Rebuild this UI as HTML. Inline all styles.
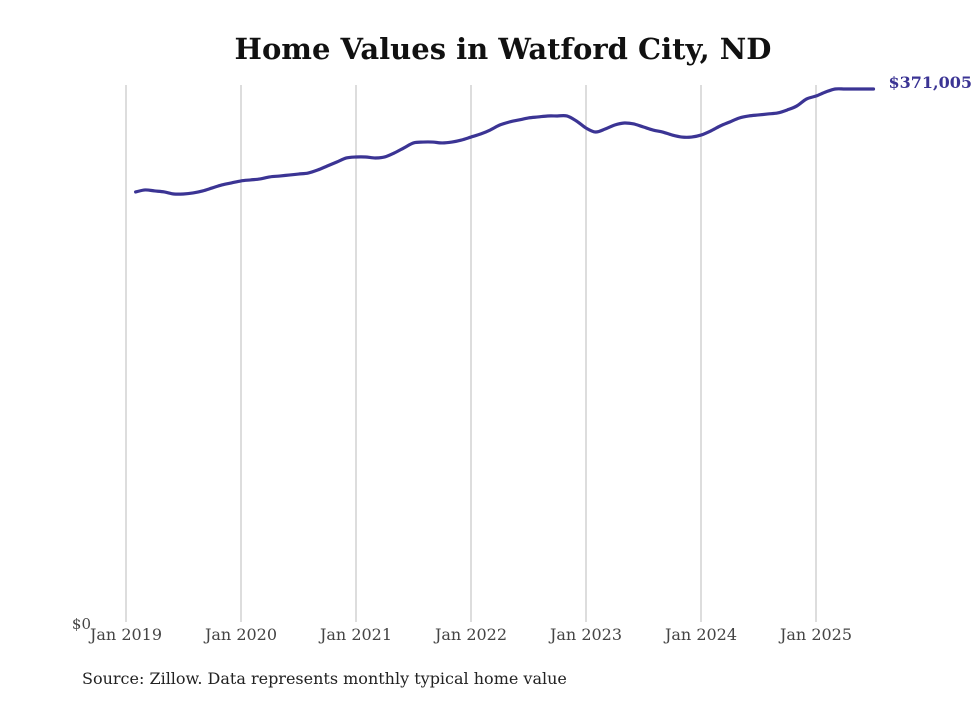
<!DOCTYPE html>
<html><head><meta charset="utf-8"><style>
body{margin:0;background:#fff;}
svg text{font-family:"DejaVu Serif","Liberation Serif",serif;}
</style></head><body>
<svg id="chart" width="980" height="699" viewBox="0 0 980 699">
<text x="503" y="59" text-anchor="middle" font-size="29" font-weight="bold" fill="#111">Home Values in Watford City, ND</text>
<g id="grid"></g><g id="xlabels"></g>
<text x="91" y="629" text-anchor="end" font-size="15" fill="#444">$0</text>
<path id="line" fill="none" stroke="#3b3494" stroke-width="3.2" stroke-linejoin="round" stroke-linecap="round"/>
<text id="endlabel" font-size="16" font-weight="bold" fill="#3b3494"></text>
<text x="82" y="684" font-size="16" fill="#222">Source: Zillow. Data represents monthly typical home value</text>
</svg>
<script>
const tickLabels=["Jan 2019","Jan 2020","Jan 2021","Jan 2022","Jan 2023","Jan 2024","Jan 2025"];
const startMonth=1; // Feb 2019 (months since Jan 2019)
const values=[299200,300600,299900,299200,297800,297800,298500,299900,302000,304100,305500,306900,
307600,308300,309700,310300,311000,311700,312400,314500,317300,320100,322900,323600,
323600,322900,323600,326400,329900,333400,334000,334000,333400,334000,335400,337500,
339600,342400,345900,348000,349400,350800,351500,352200,352200,352200,348700,343800,
341000,343100,345900,347300,346600,344500,342400,341000,338900,337500,337500,338900,
341700,345200,348000,350800,352200,352900,353600,354300,356400,359200,364000,366100,
368900,371000,371005,371005,371005,371005];
const ns="http://www.w3.org/2000/svg";
const x0=126,pxPerMonth=115/12,yZero=621,yMax=371005,yTop=89;
const xs=m=>x0+m*pxPerMonth;
const ys=v=>yZero-(v/yMax)*(yZero-yTop);
const grid=document.getElementById('grid'),xl=document.getElementById('xlabels');
tickLabels.forEach((t,i)=>{
  const x=xs(i*12);
  const l=document.createElementNS(ns,'line');
  
  
  l.setAttribute('x1',x);l.setAttribute('x2',x);l.setAttribute('y1',85);l.setAttribute('y2',622);
  l.setAttribute('stroke','#bbbbbb');l.setAttribute('stroke-width','1');
  grid.appendChild(l);
  const tx=document.createElementNS(ns,'text');
  
  
  tx.setAttribute('x',x);tx.setAttribute('y',640);tx.setAttribute('text-anchor','middle');
  tx.setAttribute('font-size','16');tx.setAttribute('fill','#444');
  tx.textContent=t;xl.appendChild(tx);
});
const pts=values.map((v,i)=>[xs(startMonth+i),ys(v)]);
let d='M'+pts[0][0]+','+pts[0][1];
for(let i=0;i<pts.length-1;i++){
  const p0=pts[Math.max(0,i-1)],p1=pts[i],p2=pts[i+1],p3=pts[Math.min(pts.length-1,i+2)];
  const c1=[p1[0]+(p2[0]-p0[0])/6,p1[1]+(p2[1]-p0[1])/6];
  const c2=[p2[0]-(p3[0]-p1[0])/6,p2[1]-(p3[1]-p1[1])/6];
  d+=' C'+c1+' '+c2+' '+p2;
}
document.getElementById('line').setAttribute('d',d);
const last=pts[pts.length-1],el=document.getElementById('endlabel');
el.setAttribute('x',last[0]+15);el.setAttribute('y',last[1]-1);
el.textContent='$'+values[values.length-1].toLocaleString('en-US');
</script>
</body></html>
